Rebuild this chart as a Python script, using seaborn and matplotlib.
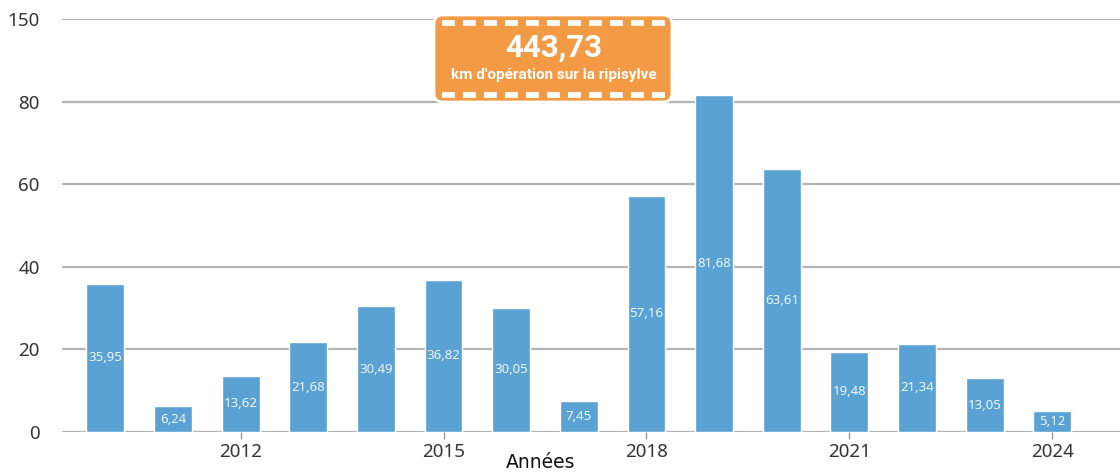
import matplotlib
matplotlib.use("Agg")
import matplotlib.pyplot as plt
from matplotlib.patches import FancyBboxPatch
import seaborn as sns
import pandas as pd

years = list(range(2010, 2025))
km = [35.95, 6.24, 13.62, 21.68, 30.49, 36.82, 30.05, 7.45,
      57.16, 81.68, 63.61, 19.48, 21.34, 13.05, 5.12]
tick_years = [2012, 2015, 2018, 2021, 2024]
y_ticks = [0, 20, 40, 60, 80, 100]
y_labels = ["0", "20", "40", "60", "80", "150"]
total_label = "443,73"
total_caption = "km d'opération sur la ripisylve"

sns.set_style("white")
plt.rcParams["font.family"] = ["Noto Sans", "DejaVu Sans"]

df = pd.DataFrame({"annee": years, "km": km})

fig = plt.figure(figsize=(11.2, 4.72), dpi=100)
ax = fig.add_axes([62 / 1120, 1 - 432 / 472, 1 - 62 / 1120, (432 - 19) / 472])

sns.barplot(data=df, x="annee", y="km", native_scale=True, width=0.56,
            color="#5aa2d3", saturation=1, ax=ax, zorder=3)

labels = [f"{v:.2f}".replace(".", ",") for v in km]
ax.bar_label(ax.containers[0], labels=labels, label_type="center",
             color="#eef5fb", fontsize=9.5)

ax.set_xlim(2010 - 0.64, 2025.0)
ax.set_ylim(0, 100)
ax.set_yticks(y_ticks)
ax.set_yticklabels(y_labels)
ax.set_xticks(tick_years)
ax.set_xticklabels([str(y) for y in tick_years])
ax.grid(axis="y", color="#b4b4b4", linewidth=1.6, zorder=0)
ax.set_axisbelow(True)
for s in ax.spines.values():
    s.set_visible(False)
ax.tick_params(axis="y", length=0, labelsize=13.5, labelcolor="#333333", pad=16)
ax.tick_params(axis="x", length=5, width=1, color="#999999", labelsize=13.5,
               labelcolor="#333333", pad=3, direction="out", bottom=True)
ax.set_xlabel("")
ax.set_ylabel("")
fig.text(541 / 1120, 1 - 462 / 472, "Années", ha="center", va="center",
         fontsize=13.5, color="#111111", family="DejaVu Sans")

# orange callout box, drawn in pixel coordinates
ov = fig.add_axes([0, 0, 1, 1], zorder=5)
ov.set_xlim(0, 1120)
ov.set_ylim(472, 0)
ov.axis("off")
ov.patch.set_alpha(0)
box = FancyBboxPatch((434, 15), 238, 87, boxstyle="round,pad=0,rounding_size=9",
                     facecolor="#f39a45", edgecolor="white", linewidth=2)
ov.add_patch(box)
for yy in (23, 95):
    ov.plot([442, 666], [yy, yy], color="white", linewidth=4.2,
            dashes=(2.2, 1.4), solid_capstyle="butt", dash_capstyle="butt")
ov.text(554, 48, total_label, ha="center", va="center", color="white",
        fontsize=22.5, fontweight="bold", family=["Roboto", "DejaVu Sans"])
ov.text(554, 75, total_caption, ha="center", va="center", color="white",
        fontsize=11, fontweight="bold", family=["Roboto", "DejaVu Sans"])

fig.savefig("out.png", dpi=100)
